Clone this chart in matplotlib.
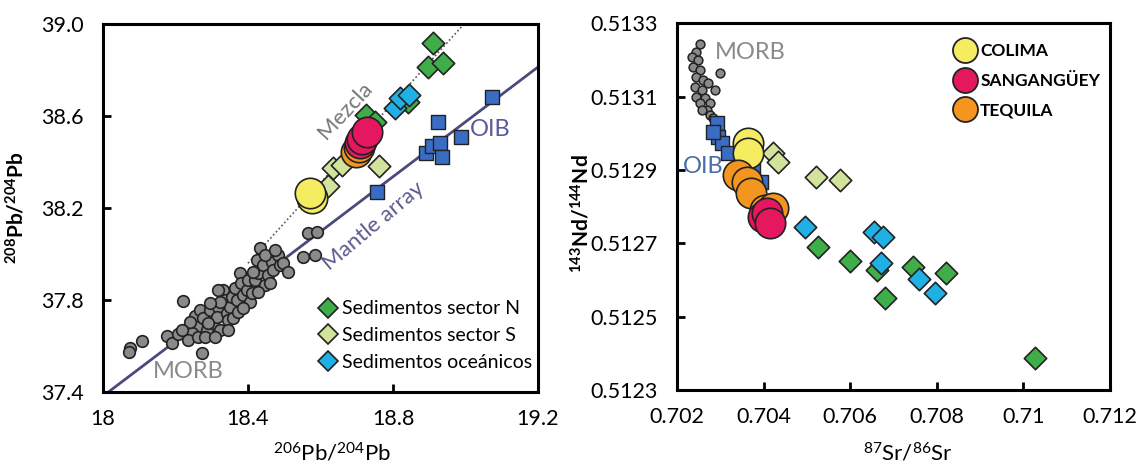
import matplotlib
matplotlib.use("Agg")
import matplotlib.pyplot as plt
from matplotlib.lines import Line2D

plt.rcParams['font.family'] = ['Lato', 'DejaVu Sans']
plt.rcParams['mathtext.fontset'] = 'custom'
plt.rcParams['mathtext.rm'] = 'Lato'
plt.rcParams['mathtext.it'] = 'Lato:italic'
plt.rcParams['mathtext.bf'] = 'Lato:bold'

# ---- Pb-Pb data (206Pb/204Pb, 208Pb/204Pb) ----
morb_pb_x = [18.074, 18.073, 18.107, 18.176, 18.189, 18.208, 18.220, 18.272, 18.254, 18.268,
             18.258, 18.277, 18.286, 18.295, 18.304, 18.318, 18.314, 18.323, 18.332, 18.337,
             18.341, 18.346, 18.350, 18.360, 18.355, 18.364, 18.369, 18.378, 18.382, 18.387,
             18.396, 18.401, 18.405, 18.419, 18.424, 18.428, 18.433, 18.442, 18.447, 18.456,
             18.465, 18.470, 18.484, 18.488, 18.497, 18.511, 18.553, 18.585, 18.566, 18.591,
             18.245, 18.235, 18.263, 18.281, 18.291, 18.309, 18.318, 18.346, 18.323, 18.373,
             18.387, 18.410, 18.415, 18.428, 18.447, 18.461, 18.474, 18.240, 18.217, 18.295]
morb_pb_y = [37.590, 37.575, 37.622, 37.643, 37.612, 37.652, 37.797, 37.568, 37.730, 37.756,
             37.684, 37.720, 37.670, 37.756, 37.699, 37.771, 37.728, 37.670, 37.843, 37.800,
             37.742, 37.713, 37.771, 37.720, 37.814, 37.851, 37.800, 37.916, 37.872, 37.822,
             37.843, 37.887, 37.793, 37.887, 37.974, 37.916, 38.025, 37.952, 37.865, 37.909,
             37.967, 37.930, 37.996, 37.952, 37.959, 37.923, 37.988, 37.996, 38.090, 38.097,
             37.655, 37.626, 37.640, 37.641, 37.699, 37.641, 37.843, 37.670, 37.793, 37.749,
             37.764, 37.829, 37.923, 37.836, 37.996, 37.872, 38.017, 37.706, 37.670, 37.785]

oib_pb_x = [18.755, 18.925, 18.988, 18.890, 18.907, 18.930, 18.934, 19.073]
oib_pb_y = [38.268, 38.575, 38.507, 38.438, 38.470, 38.481, 38.420, 38.683]

secN_pb_x = [18.909, 18.896, 18.937, 18.842, 18.726, 18.750]
secN_pb_y = [38.919, 38.814, 38.832, 38.662, 38.604, 38.575]
secS_pb_x = [18.622, 18.635, 18.658, 18.761]
secS_pb_y = [38.297, 38.373, 38.387, 38.384]
ocean_pb_x = [18.806, 18.819, 18.845]
ocean_pb_y = [38.633, 38.677, 38.691]

colima_pb_x = [18.576, 18.571]
colima_pb_y = [38.242, 38.264]
tequila_pb_x = [18.698, 18.707]
tequila_pb_y = [38.445, 38.467]
sang_pb_x = [18.709, 18.714, 18.729]
sang_pb_y = [38.481, 38.499, 38.532]

mantle_x = [18.015, 19.2]
mantle_y = [37.40, 38.813]
mezcla_x = [18.40, 18.996]
mezcla_y = [37.96, 39.0]

# ---- Sr-Nd data (87Sr/86Sr, 143Nd/144Nd) ----
morb_sr_x = [0.70253, 0.70245, 0.70234, 0.70249, 0.70299, 0.70238, 0.70253, 0.70245, 0.70261,
             0.70272, 0.70242, 0.70257, 0.70288, 0.70245, 0.70265, 0.70253, 0.70276, 0.70269,
             0.70276, 0.70284, 0.70257, 0.70284]
morb_sr_y = [0.513244, 0.513223, 0.513209, 0.513200, 0.513164, 0.513182, 0.513173, 0.513155,
             0.513146, 0.513137, 0.513127, 0.513118, 0.513118, 0.513100, 0.513096, 0.513082,
             0.513084, 0.513064, 0.513050, 0.513041, 0.513064, 0.513005]

oib_sr_x = [0.70292, 0.70295, 0.70303, 0.70318, 0.70376, 0.70395, 0.70284]
oib_sr_y = [0.513027, 0.512991, 0.512973, 0.512946, 0.512900, 0.512868, 0.513005]

secS_sr_x = [0.70422, 0.70434, 0.70522, 0.70576]
secS_sr_y = [0.512946, 0.512923, 0.512882, 0.512873]
secN_sr_x = [0.70526, 0.70599, 0.70661, 0.70745, 0.70821, 0.70680, 0.71026]
secN_sr_y = [0.512689, 0.512652, 0.512627, 0.512635, 0.512620, 0.512550, 0.512386]
ocean_sr_x = [0.70495, 0.70654, 0.70676, 0.70672, 0.70759, 0.70797]
ocean_sr_y = [0.512745, 0.512732, 0.512716, 0.512647, 0.512602, 0.512564]

colima_sr_x = [0.70364, 0.70364]
colima_sr_y = [0.512973, 0.512946]
tequila_sr_x = [0.70341, 0.70361, 0.70370, 0.70403, 0.70422]
tequila_sr_y = [0.512886, 0.512868, 0.512838, 0.512791, 0.512796]
sang_sr_x = [0.70399, 0.70407, 0.70415]
sang_sr_y = [0.512773, 0.512782, 0.512755]

c_gray = '#8a8a8a'
c_blue = '#3a6cc4'
c_green = '#3fae49'
c_lgreen = '#d2e39c'
c_cyan = '#1fb0e6'
c_yellow = '#f6ec62'
c_pink = '#e5175e'
c_orange = '#f4951f'
edge = '#222222'

fig = plt.figure(figsize=(11.43, 4.67), dpi=100)
ax1 = fig.add_axes([0.0901, 0.1606, 0.3806, 0.788])
ax2 = fig.add_axes([0.5923, 0.1649, 0.3788, 0.785])

# left panel
ax1.plot(mantle_x, mantle_y, color='#4b4a7e', lw=2, zorder=1)
ax1.plot(mezcla_x, mezcla_y, color='#555555', lw=1.2, ls=(0, (1, 1.5)), zorder=1)
ax1.scatter(morb_pb_x, morb_pb_y, s=70, c=c_gray, edgecolors=edge, linewidths=1.2, zorder=2)
ax1.scatter(oib_pb_x, oib_pb_y, s=95, marker='s', c=c_blue, edgecolors=edge, linewidths=1, zorder=3)
ax1.scatter(secS_pb_x, secS_pb_y, s=130, marker='D', c=c_lgreen, edgecolors=edge, linewidths=1.2, zorder=3)
ax1.scatter(secN_pb_x, secN_pb_y, s=130, marker='D', c=c_green, edgecolors=edge, linewidths=1.2, zorder=3)
ax1.scatter(ocean_pb_x, ocean_pb_y, s=130, marker='D', c=c_cyan, edgecolors=edge, linewidths=1.2, zorder=4)
ax1.scatter(colima_pb_x, colima_pb_y, s=480, c=c_yellow, edgecolors=edge, linewidths=1.2, zorder=5)
ax1.scatter(tequila_pb_x, tequila_pb_y, s=480, c=c_orange, edgecolors=edge, linewidths=1.2, zorder=5)
ax1.scatter(sang_pb_x, sang_pb_y, s=480, c=c_pink, edgecolors=edge, linewidths=1.2, zorder=6)

ax1.text(18.668, 38.626, 'Mezcla', rotation=47, color='#777777', fontsize=16,
         ha='center', va='center')
ax1.text(18.745, 38.12, 'Mantle array', rotation=40, color='#5b5a8e', fontsize=16,
         ha='center', va='center')
ax1.text(19.068, 38.543, 'OIB', color='#5b5a99', fontsize=17, ha='center', va='center')
ax1.text(18.234, 37.487, 'MORB', color='#8a8a8a', fontsize=17, ha='center', va='center')

ax1.set_xlim(18, 19.2)
ax1.set_ylim(37.4, 39.0)
ax1.set_xticks([18, 18.4, 18.8, 19.2])
ax1.set_xticklabels(['18', '18.4', '18.8', '19.2'])
ax1.set_yticks([37.4, 37.8, 38.2, 38.6, 39.0])
ax1.set_yticklabels(['37.4', '37.8', '38.2', '38.6', '39.0'])
ax1.set_xlabel(r'$^{206}$Pb/$^{204}$Pb', fontsize=16)
ax1.set_ylabel(r'$\mathbf{^{208}}$Pb/$\mathbf{^{204}}$Pb', fontsize=15, fontweight='bold')
ax1.xaxis.set_label_coords(0.526, -0.135)
ax1.yaxis.set_label_coords(-0.172, 0.5)

h = [Line2D([], [], marker='D', ls='none', ms=10, mfc=c, mec=edge, mew=1.2)
     for c in (c_green, c_lgreen, c_cyan)]
ax1.legend(h, ['Sedimentos sector N', 'Sedimentos sector S', 'Sedimentos oceánicos'],
           loc='lower left', bbox_to_anchor=(0.46, 0.01), frameon=False, fontsize=14,
           handletextpad=0.3, labelspacing=0.5, handlelength=0.8)

# right panel
ax2.scatter(morb_sr_x, morb_sr_y, s=40, c=c_gray, edgecolors=edge, linewidths=1.1, zorder=2)
ax2.scatter(oib_sr_x, oib_sr_y, s=95, marker='s', c=c_blue, edgecolors=edge, linewidths=1, zorder=3)
ax2.scatter(colima_sr_x, colima_sr_y, s=480, c=c_yellow, edgecolors=edge, linewidths=1.2, zorder=5)
ax2.scatter(tequila_sr_x, tequila_sr_y, s=480, c=c_orange, edgecolors=edge, linewidths=1.2, zorder=5)
ax2.scatter(sang_sr_x, sang_sr_y, s=480, c=c_pink, edgecolors=edge, linewidths=1.2, zorder=6)
ax2.scatter(secS_sr_x, secS_sr_y, s=130, marker='D', c=c_lgreen, edgecolors=edge, linewidths=1.2, zorder=3)
ax2.scatter(secN_sr_x, secN_sr_y, s=130, marker='D', c=c_green, edgecolors=edge, linewidths=1.2, zorder=3)
ax2.scatter(ocean_sr_x, ocean_sr_y, s=130, marker='D', c=c_cyan, edgecolors=edge, linewidths=1.2, zorder=4)

ax2.text(0.7037, 0.51322, 'MORB', color='#8a8a8a', fontsize=17, ha='center', va='center')
ax2.text(0.70261, 0.51291, 'OIB', color='#4a6aa8', fontsize=17, ha='center', va='center')

ax2.set_xlim(0.702, 0.712)
ax2.set_ylim(0.5123, 0.5133)
ax2.set_xticks([0.702, 0.704, 0.706, 0.708, 0.710, 0.712])
ax2.set_xticklabels(['0.702', '0.704', '0.706', '0.708', '0.71', '0.712'])
ax2.set_yticks([0.5123, 0.5125, 0.5127, 0.5129, 0.5131, 0.5133])
ax2.set_yticklabels(['0.5123', '0.5125', '0.5127', '0.5129', '0.5131', '0.5133'])
ax2.set_xlabel(r'$^{87}$Sr/$^{86}$Sr', fontsize=16)
ax2.set_ylabel(r'$\mathbf{^{143}}$Nd/$\mathbf{^{144}}$Nd', fontsize=15, fontweight='bold')
ax2.xaxis.set_label_coords(0.533, -0.14)
ax2.yaxis.set_label_coords(-0.195, 0.48)

h2 = [Line2D([], [], marker='o', ls='none', ms=18, mfc=c, mec=edge, mew=1.3)
      for c in (c_yellow, c_pink, c_orange)]
ax2.legend(h2, ['COLIMA', 'SANGANGÜEY', 'TEQUILA'], loc='upper left',
           bbox_to_anchor=(0.6, 0.99), frameon=False, prop={'size': 12.5, 'weight': 'bold'},
           handletextpad=0.2, labelspacing=0.8, handlelength=1.4)

for ax in (ax1, ax2):
    for sp in ax.spines.values():
        sp.set_linewidth(2.2)
    ax.tick_params(direction='in', length=6, width=2, labelsize=15.5)
    ax.tick_params(axis='x', pad=12)
    ax.tick_params(axis='y', pad=14)

fig.savefig('out.png', dpi=100)
